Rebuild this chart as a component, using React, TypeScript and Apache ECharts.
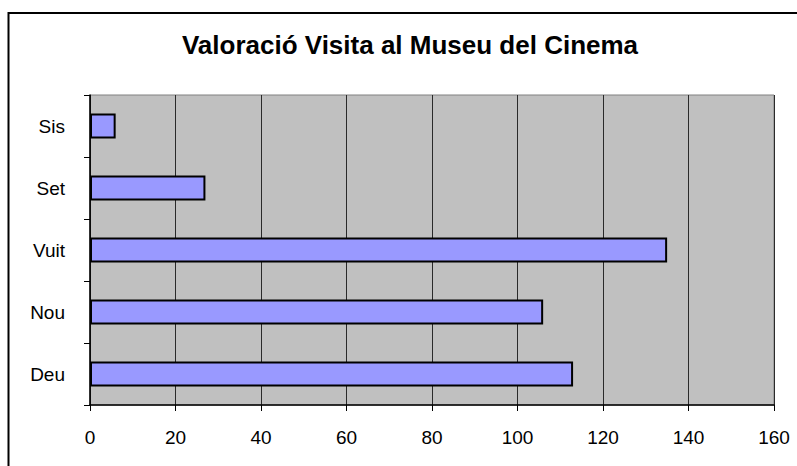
import React, { useEffect, useRef } from "react";
import * as echarts from "echarts";

const titleText = "Valoració Visita al Museu del Cinema";
const categories = ["Sis", "Set", "Vuit", "Nou", "Deu"];
const values = [6, 27, 135, 106, 113];
const xMin = 0;
const xMax = 160;
const xInterval = 20;

export default function App() {
  const ref = useRef<HTMLDivElement>(null);
  useEffect(() => {
    if (!ref.current) return;
    const chart = echarts.init(ref.current, undefined, { renderer: "svg" });
    const font = "Liberation Sans, Arial, sans-serif";
    chart.setOption({
      animation: false,
      backgroundColor: "#ffffff",
      title: {
        text: titleText,
        left: 410,
        top: 32,
        textAlign: "center",
        padding: 0,
        textStyle: { fontFamily: font, fontSize: 26, fontWeight: "bold", color: "#000" },
      },
      graphic: [
        {
          type: "rect",
          shape: { x: 8.5, y: 13, width: 900, height: 600 },
          style: { fill: "none", stroke: "#000", lineWidth: 2 },
          silent: true,
        },
      ],
      grid: {
        left: 90,
        top: 95,
        right: 23,
        bottom: 61,
        show: true,
        backgroundColor: "#c0c0c0",
        borderColor: "#808080",
        borderWidth: 1,
      },
      xAxis: {
        type: "value",
        min: xMin,
        max: xMax,
        interval: xInterval,
        axisLine: { show: true, lineStyle: { color: "#000", width: 1.5 } },
        axisTick: { show: true, inside: false, length: 6, lineStyle: { color: "#000" } },
        axisLabel: { fontFamily: font, fontSize: 19, color: "#000", margin: 23 },
        splitLine: { show: true, lineStyle: { color: "#2a2a2a", width: 1 } },
      },
      yAxis: {
        type: "category",
        data: categories,
        inverse: true,
        axisLine: { show: true, lineStyle: { color: "#000", width: 1.5 } },
        axisTick: { show: true, inside: false, length: 6, alignWithLabel: false, lineStyle: { color: "#000" } },
        axisLabel: { fontFamily: font, fontSize: 19, color: "#000", margin: 25 },
        splitLine: { show: false },
      },
      series: [
        {
          type: "bar",
          data: values,
          barWidth: 25,
          itemStyle: { color: "#9999ff", borderColor: "#000", borderWidth: 2 },
        },
      ],
    });
    return () => chart.dispose();
  }, []);
  return (
    <div
      ref={ref}
      style={{ position: "fixed", left: 0, top: 0, width: 797, height: 466 }}
    />
  );
}
